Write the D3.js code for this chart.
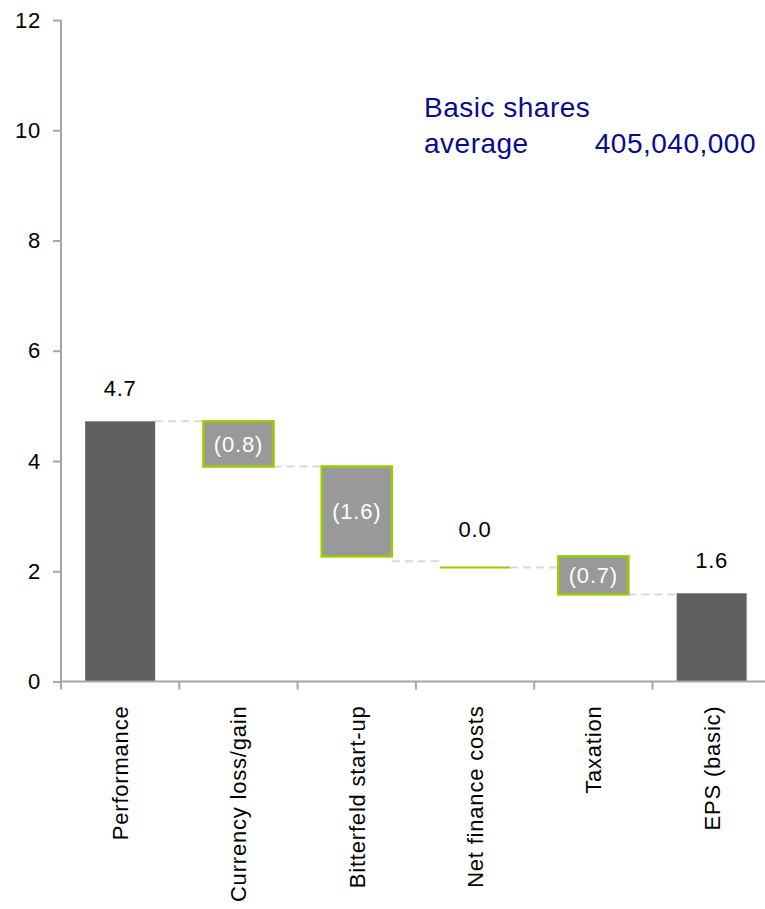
<!DOCTYPE html>
<html><head><meta charset="utf-8">
<script src="https://cdn.jsdelivr.net/npm/d3@7"></script>
<style>body{margin:0;background:#fff}svg{display:block;font-family:"Liberation Sans",Arial,sans-serif}</style>
</head><body><svg id="c" width="765" height="909"></svg>
<script>
const categories = ["Performance","Currency loss/gain","Bitterfeld start-up","Net finance costs","Taxation","EPS (basic)"];
const barTop    = [4.72, 4.72, 3.90, 2.07, 2.27, 1.60];
const barBottom = [0,    3.90, 2.27, 2.07, 1.58, 0];
const kinds     = ["total","delta","delta","delta","delta","total"];
const labels    = ["4.7","(0.8)","(1.6)","0.0","(0.7)","1.6"];
const connectorLevels = [4.72, 3.90, 2.18, 2.07, 1.58];
const yTicks = [0,2,4,6,8,10,12];

const svg = d3.select("#c");
const x = d3.scaleBand().domain(categories).range([61, 61+6*118.3]);
const y = d3.scaleLinear().domain([0,12]).range([681.5, 20]);
const barW = 70, inset = (x.bandwidth()-barW)/2;
const axisColor = "#a6a6a6";
const FS = 22, LS = "0.8px";

// connectors
svg.append("g").selectAll("line").data(connectorLevels).join("line")
  .attr("x1",(d,i)=>x(categories[i])+inset+barW)
  .attr("x2",(d,i)=>x(categories[i+1])+inset)
  .attr("y1",d=>y(d)).attr("y2",d=>y(d))
  .attr("stroke","#d9d9d9").attr("stroke-width",2).attr("stroke-dasharray","8,5");

// bars
const g = svg.append("g").attr("font-size",FS).attr("letter-spacing",LS);
categories.forEach((c,i)=>{
  const x0 = x(c)+inset;
  const t = y(barTop[i]), b = y(barBottom[i]);
  if (kinds[i]==="total") {
    g.append("rect").attr("x",x0).attr("y",t).attr("width",barW).attr("height",b-t).attr("fill","#606060");
    g.append("text").attr("x",x0+barW/2).attr("y",t-25).attr("text-anchor","middle")
      .attr("fill","#000").text(labels[i]);
  } else if (b-t < 1) {
    g.append("line").attr("x1",x0).attr("x2",x0+barW).attr("y1",t).attr("y2",t)
      .attr("stroke","#99cc00").attr("stroke-width",2);
    g.append("text").attr("x",x0+barW/2).attr("y",t-30).attr("text-anchor","middle")
      .attr("fill","#000").text(labels[i]);
  } else {
    g.append("rect").attr("x",x0).attr("y",t).attr("width",barW).attr("height",b-t)
      .attr("fill","#999999").attr("stroke","#99cc00").attr("stroke-width",2.5);
    g.append("text").attr("x",x0+barW/2).attr("y",(t+b)/2).attr("dy","0.35em").attr("text-anchor","middle")
      .attr("fill","#fff").text(labels[i]);
  }
});

// y axis
const ya = svg.append("g").attr("transform","translate(61,0)")
  .call(d3.axisLeft(y).tickValues(yTicks).tickSize(8).tickPadding(12).tickFormat(d3.format("d")));
ya.select(".domain").attr("stroke",axisColor).attr("stroke-width",2).attr("d","M0,"+y(12)+"V"+y(0));
ya.selectAll(".tick line").attr("stroke",axisColor).attr("stroke-width",2);
ya.selectAll(".tick text").attr("font-size",FS).attr("letter-spacing",LS).attr("fill","#000")
  .attr("font-family","Liberation Sans, Arial, sans-serif");

// x axis
const xa = svg.append("g").attr("transform","translate(0,"+y(0)+")");
xa.append("line").attr("x1",61).attr("x2",765).attr("stroke",axisColor).attr("stroke-width",2);
xa.selectAll("line.t").data(categories).join("line").attr("class","t")
  .attr("x1",d=>x(d)).attr("x2",d=>x(d)).attr("y1",0).attr("y2",8)
  .attr("stroke",axisColor).attr("stroke-width",2);
xa.selectAll("text").data(categories).join("text")
  .attr("transform",d=>"translate("+(x(d)+x.bandwidth()/2+8)+",24) rotate(-90)")
  .attr("text-anchor","end").attr("font-size",FS).attr("letter-spacing",LS).attr("fill","#000").text(d=>d);

// annotation
const ann = svg.append("g").attr("fill","#0a0a8c").attr("font-size",28).attr("letter-spacing","0.5px");
ann.append("text").attr("x",424).attr("y",117).text("Basic shares");
ann.append("text").attr("x",424).attr("y",153).text("average");
ann.append("text").attr("x",756).attr("y",153).attr("text-anchor","end").text("405,040,000");
</script></body></html>
